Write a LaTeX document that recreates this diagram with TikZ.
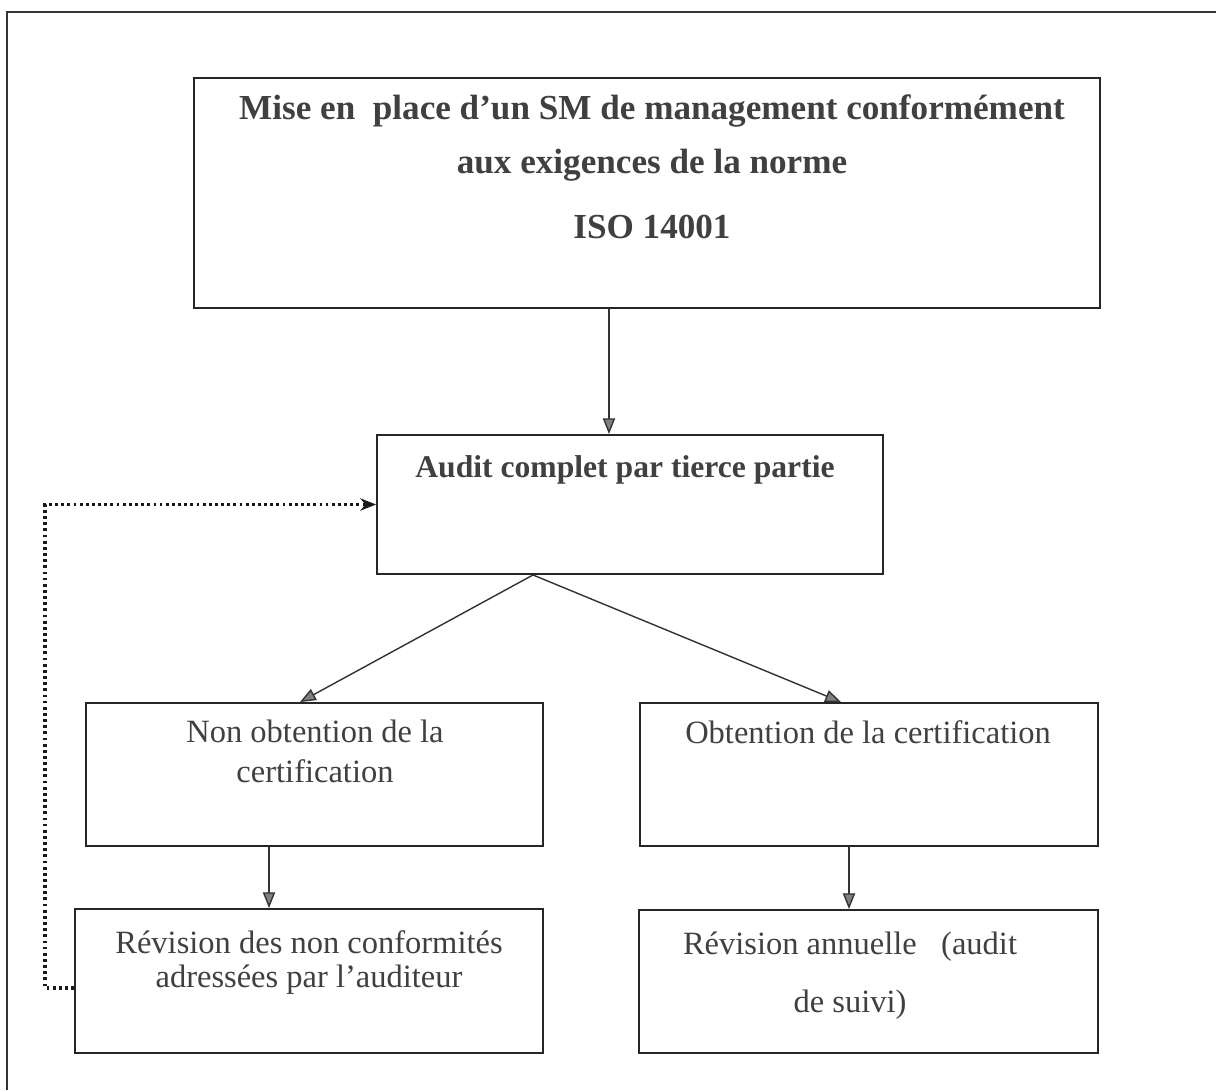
\documentclass[tikz,border=0pt]{standalone}
\usepackage{fontspec}
\setmainfont{Liberation Serif}
\usetikzlibrary{arrows.meta,positioning}

\begin{document}
\begin{tikzpicture}[x=0.02cm,y=-0.02cm,
	box/.style={draw=black!85, line width=1.1pt, inner sep=0pt},
	txt/.style={text=black!75, align=center, inner sep=0pt, anchor=north},
	bigfont/.style={font=\fontsize{20}{31}\selectfont\bfseries},
	regfont/.style={font=\fontsize{18.5}{#1}\selectfont},
	arr/.style={draw=black!80, line width=0.8pt, -{Triangle[length=9pt,width=7pt,fill=black!50]}},
	back/.style={draw=black!90, line width=1.8pt, dash pattern=on 1.6pt off 1.9pt, -{Stealth[length=9pt,width=7pt]}}]
	\useasboundingbox (0,0) rectangle (1216,1090);
	\draw[black!80, line width=1.2pt] (7,1090) -- (7,12) -- (1216,12);
	% boites
		\node[box, minimum width=18.12cm, minimum height=4.6cm] (mise) at (647,193) {};
		\node[box, minimum width=10.12cm, minimum height=2.78cm] (audit) at (630,504.5) {};
		\node[box, minimum width=9.14cm, minimum height=2.86cm] (nonobt) at (314.5,774.5) {};
		\node[box, minimum width=9.16cm, minimum height=2.86cm] (obt) at (869,774.5) {};
		\node[box, minimum width=9.36cm, minimum height=2.88cm] (revnc) at (309,981) {};
		\node[box, minimum width=9.18cm, minimum height=2.86cm] (revan) at (868.5,981.5) {};
	% textes
		\node[txt, bigfont] (misetxt) at (652,94) {Mise en\ \ place d’un SM de management conformément\\ aux exigences de la norme\\[6pt] ISO 14001};
		\node[txt, font=\fontsize{18}{22}\selectfont\bfseries] (audittxt) at (625,455) {Audit complet par tierce partie};
		\node[txt, regfont=22.8] (nonobttxt) at (315,720) {Non obtention de la\\ certification};
		\node[txt, regfont=22.8] (obttxt) at (868,720) {Obtention de la certification};
		\node[txt, regfont=19.5] (revnctxt) at (309,930) {Révision des non conformités\\ adressées par l’auditeur};
		\node[txt, regfont=33] (revantxt) at (850,932) {Révision annuelle\ \ \ (audit\\ de suivi)};
	% fleches
		\coordinate (t1) at (609,0);
		\coordinate (apex) at (533,0);
		\coordinate (l1) at (300,0);
		\coordinate (r1) at (841,0);
		\coordinate (l2) at (269,0);
		\coordinate (r2) at (849,0);
		\coordinate (back1) at (45,988);
		\draw[arr] (mise.south -| t1) -- (audit.north -| t1);
		\draw[arr] (audit.south -| apex) -- (nonobt.north -| l1);
		\draw[arr] (audit.south -| apex) -- (obt.north -| r1);
		\draw[arr] (nonobt.south -| l2) -- (revnc.north -| l2);
		\draw[arr] (obt.south -| r2) -- (revan.north -| r2);
		\draw[back] (revnc.west |- back1) -- (back1) |- (audit.west);
	\end{tikzpicture}
\end{document}
